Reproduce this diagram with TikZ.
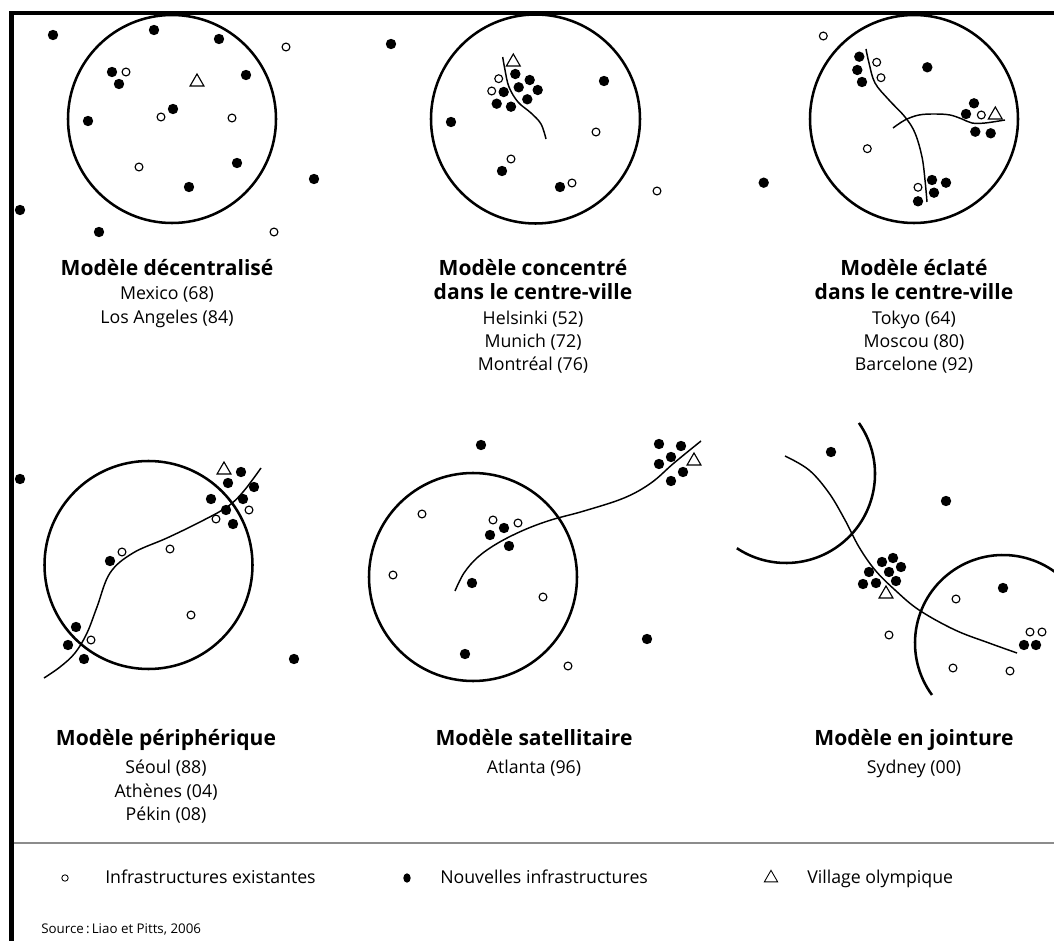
\documentclass[tikz,border=0pt]{standalone}
\usepackage{fontspec}
\setmainfont{Open Sans}
\usetikzlibrary{shapes.geometric}
\begin{document}
\begin{tikzpicture}[x=0.75pt,y=-0.75pt,
  newd/.style={circle,fill=black,inner sep=0pt,minimum size=7.8pt},
  oldd/.style={circle,draw=black,line width=0.85pt,fill=white,inner sep=0pt,minimum size=5.9pt},
  vil/.style={regular polygon,regular polygon sides=3,draw=black,line width=0.85pt,fill=white,inner sep=0pt,minimum size=12pt},
  zone/.style={line width=1.9pt},
  road/.style={line width=1.1pt},
  frame/.style={line width=3.2pt},
  sep/.style={line width=1.2pt,draw=black!45},
  title/.style={font=\fontsize{15.8}{18}\selectfont\bfseries,anchor=base,inner sep=0pt},
  city/.style={font=\fontsize{13.3}{15}\selectfont,anchor=base,inner sep=0pt},
  legtext/.style={font=\fontsize{13.3}{15}\selectfont,anchor=base west,inner sep=0pt},
  src/.style={font=\fontsize{10}{12}\selectfont,anchor=base west,inner sep=0pt},
  legold/.style={circle,draw=black,line width=0.65pt,inner sep=0pt,minimum size=4.8pt},
  legnew/.style={ellipse,fill=black,inner sep=0pt,minimum width=5.6pt,minimum height=7pt},
  legvil/.style={regular polygon,regular polygon sides=3,draw=black,line width=0.65pt,inner sep=0pt,minimum size=11.5pt}
]
\useasboundingbox (0,0) rectangle (1054,941);
\fill[white] (0,0) rectangle (1054,941);

% frame
\draw[frame] (11.5,941) -- (11.5,13) -- (1054,13);

% ---------- Panel 1 : decentralise ----------
\draw[zone] (172,119) circle[radius=104];
\foreach \x/\y [count=\i] in {53/35,154/30,219/39,246/75,112/72,119/84,173/109,88/121,237/163,189/187,314/179,20/210,99/232}
  \node[newd] (a\i) at (\x,\y) {};
\foreach \x/\y [count=\i] in {286/47,126/72,161/117,232/118,139/167,274/232}
  \node[oldd] (ao\i) at (\x,\y) {};
\node[vil] (av) at (197,82) {};

% ---------- Panel 2 : concentre ----------
\draw[zone] (535.5,119) circle[radius=104.5];
\draw[road] plot[smooth,tension=0.6] coordinates {(502.7,57) (505,70) (509,87) (518,102) (531,113) (541,124) (546,139)};
\foreach \x/\y [count=\i] in {391/44,604/81,451/122,502/171,560/187,515.3/74,529.7/80,503.7/92,518.7/87.3,537.7/90,496.7/103.7,511/106.7,527.3/99.3}
  \node[newd] (b\i) at (\x,\y) {};
\foreach \x/\y [count=\i] in {498.7/78.7,491.7/91,596/132,511/159,572/183,657/191}
  \node[oldd] (bo\i) at (\x,\y) {};
\node[vil] (bv) at (513.3,62) {};

% ---------- Panel 3 : eclate ----------
\draw[zone] (914,119) circle[radius=104];
\draw[road] plot[smooth,tension=0.6] coordinates {(866,49) (869,63) (875,83) (889,100) (905,117) (915,133) (922,157) (925,180) (927,202)};
\draw[road] plot[smooth,tension=0.6] coordinates {(893,128) (905,120) (919,115) (935,114) (950,115) (962,119) (972,123) (985,123) (1005,120)};
\foreach \x/\y [count=\i] in {859.3/56.7,857.3/70,862/82,927.3/67.3,974/103.3,966/114,975.3/131.7,990.7/133.3,932/180,946/182.7,934/192.7,918/201.3,763.7/182.7}
  \node[newd] (c\i) at (\x,\y) {};
\foreach \x/\y [count=\i] in {823.3/36,876.7/62.3,881/77.7,981.3/115,867.3/148.7,918/187.3}
  \node[oldd] (co\i) at (\x,\y) {};
\node[vil] (cv) at (995.3,115) {};

% ---------- Panel 4 : peripherique ----------
\draw[zone] (148.5,565) circle[radius=104];
\draw[road] plot[smooth,tension=0.6] coordinates {(44,678) (60,667) (75,653) (87,633) (97,607) (110,573) (133,553) (167,538) (200,522) (227,507) (243,492) (261,468)};
\foreach \x/\y [count=\i] in {20/479,241/472,228/483,254/487,211/499,243/499,226/510,233/524,110/561,76/627,68/645,84/659,294/659}
  \node[newd] (d\i) at (\x,\y) {};
\foreach \x/\y [count=\i] in {249/510,216/519,122/552,170/549,191/615,91/640}
  \node[oldd] (do\i) at (\x,\y) {};
\node[vil] (dv) at (224,470) {};

% ---------- Panel 5 : satellitaire ----------
\draw[zone] (473,577) circle[radius=104];
\draw[road] plot[smooth,tension=0.6] coordinates {(455,591) (464,573) (478,557) (498,543) (524,530) (551,520) (584,511) (624,498) (651,483) (674,463) (701,441)};
\foreach \x/\y [count=\i] in {481/445,659/444,681/446,671/457,659/464,683/472,671/481,504/528,490/535,509/546,472/583,647/639,465/654}
  \node[newd] (e\i) at (\x,\y) {};
\foreach \x/\y [count=\i] in {422/514,493/520,518/523,393/575,543/597,568/666}
  \node[oldd] (eo\i) at (\x,\y) {};
\node[vil] (ev) at (694,461) {};

% ---------- Panel 6 : jointure ----------
\draw[zone] (786,474) ++(-35:89) arc[start angle=-35,end angle=123.5,radius=89];
\draw[zone] (1003,643) ++(143.8:88) arc[start angle=143.8,end angle=320,radius=88];
\draw[road] plot[smooth,tension=0.6] coordinates {(785,456) (809,470) (829,493) (845,520) (859,547) (875,570) (895,590) (919,610) (955,630) (989,643) (1017,653)};
\foreach \x/\y [count=\i] in {831/452,946/501,1003/588,882/562,893/558,901/567,869/572,889/572,863/584,876/583,896/581,1024/645,1036/645}
  \node[newd] (f\i) at (\x,\y) {};
\foreach \x/\y [count=\i] in {956/599,889/635,953/668,1010/671,1030/632,1042/632}
  \node[oldd] (fo\i) at (\x,\y) {};
\node[vil] (fv) at (886,594) {};

% ---------- Labels top row ----------
\node[title] (t1) at (167,276) {Modèle décentralisé};
\node[city] (t1a) at (167,300) {Mexico (68)};
\node[city] (t1b) at (167,324) {Los Angeles (84)};

\node[title] (t2) at (533,276) {Modèle concentré};
\node[title] (t2l) at (533,300) {dans le centre-ville};
\node[city] (t2a) at (533,325) {Helsinki (52)};
\node[city] (t2b) at (533,348) {Munich (72)};
\node[city] (t2c) at (533,371) {Montréal (76)};

\node[title] (t3) at (914,276) {Modèle éclaté};
\node[title] (t3l) at (914,300) {dans le centre-ville};
\node[city] (t3a) at (914,325) {Tokyo (64)};
\node[city] (t3b) at (914,348) {Moscou (80)};
\node[city] (t3c) at (914,371) {Barcelone (92)};

% ---------- Labels bottom row ----------
\node[title] (t4) at (166,745) {Modèle périphérique};
\node[city] (t4a) at (166,773) {Séoul (88)};
\node[city] (t4b) at (166,797) {Athènes (04)};
\node[city] (t4c) at (166,820) {Pékin (08)};

\node[title] (t5) at (534,745) {Modèle satellitaire};
\node[city] (t5a) at (534,773) {Atlanta (96)};

\node[title] (t6) at (914,745) {Modèle en jointure};
\node[city] (t6a) at (914,773) {Sydney (00)};

% ---------- Legend ----------
\draw[sep] (13.5,843) -- (1054,843);
\node[legold] (lo) at (65,878) {};
\node[legtext] (lot) at (105,883) {Infrastructures existantes};
\node[legnew] (ln) at (407,878) {};
\node[legtext] (lnt) at (440,883) {Nouvelles infrastructures};
\node[legvil] (lv) at (771,878) {};
\node[legtext] (lvt) at (807,883) {Village olympique};

\node[src] (source) at (41,933) {Source\,:\,Liao et Pitts, 2006};
\end{tikzpicture}
\end{document}
